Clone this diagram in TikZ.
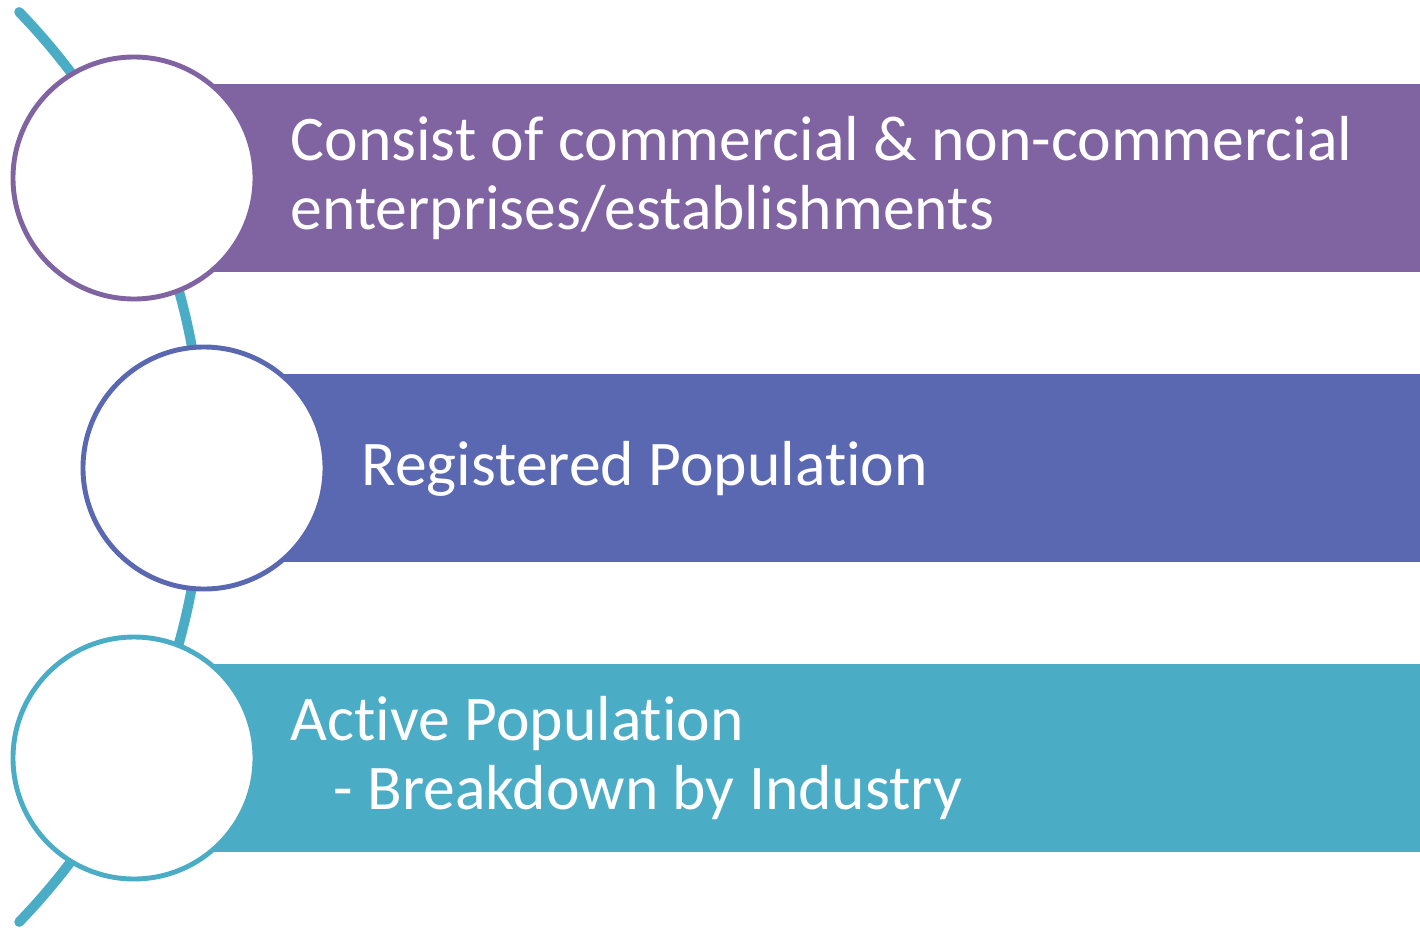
\documentclass[tikz,border=0pt]{standalone}
\usepackage{fontspec}
\setmainfont{Carlito}[Ligatures=NoCommon]
\usepackage{xcolor}
\definecolor{purpleband}{HTML}{8064A2}
\definecolor{blueband}{HTML}{5A67B1}
\definecolor{tealband}{HTML}{4BACC6}
\tikzset{
  band/.style={fill=#1, draw=none, anchor=west, minimum width=12.10cm, minimum height=1.88cm, inner sep=0pt},
  ring/.style={circle, fill=white, draw=#1, line width=1.4pt, minimum size=2.42cm, inner sep=0pt},
  label/.style={anchor=base west, align=left, text=white, inner sep=0pt, font=\fontsize{18.1}{19.4}\selectfont}
}
\begin{document}
\begin{tikzpicture}
      \useasboundingbox (0,0) rectangle (14.20,-9.32);
        % Curve behind the circles
      \draw[tealband, line width=2.8pt, line cap=round] (-4.52,-4.67) ++(44:6.55) arc (44:-44:6.55);
        % Bands
      \node[band=purpleband] (P) at (2.10,-1.78) {};
      \node[band=blueband] (Q) at (2.80,-4.68) {};
      \node[band=tealband] (T) at (2.10,-7.58) {};
        % Circles
      \node[ring=purpleband] (A) at (1.34,-1.78) {};
      \node[ring=blueband] (B) at (2.04,-4.68) {};
      \node[ring=tealband] (C) at (1.34,-7.58) {};
        % Texts
      \node[label] (PA) at (2.90,-2.29) {Consist of commercial \& non-commercial\\enterprises/establishments};
      \node[label] (QA) at (3.61,-4.85) {Registered Population};
      \node[label] (TA) at (2.90,-8.09) {Active Population\\\hspace{0.43cm}- Breakdown by Industry};
    \end{tikzpicture}
\end{document}
